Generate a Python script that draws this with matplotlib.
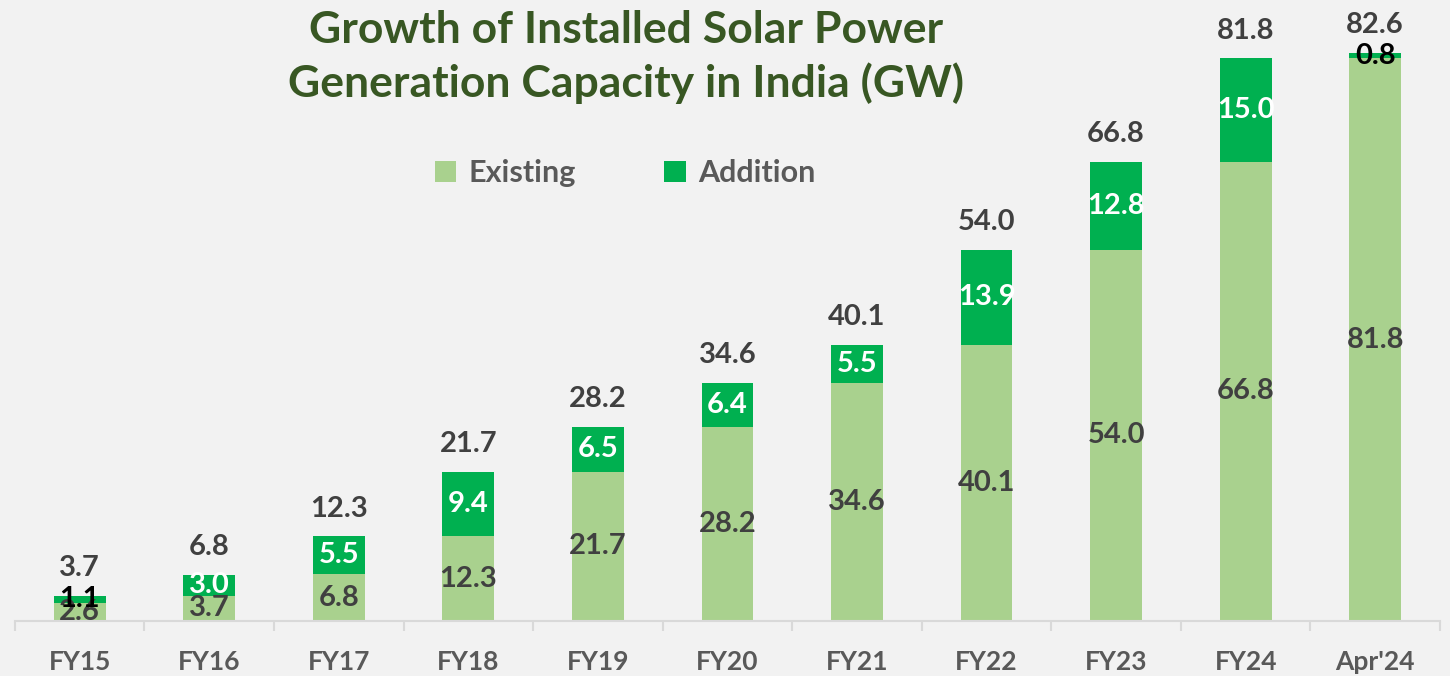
import matplotlib
matplotlib.use('Agg')
import matplotlib.pyplot as plt
import numpy as np

BG = '#F2F2F2'
EXIST_C = '#A9D18E'
ADD_C = '#00B050'
DARK = '#404040'
GREY = '#595959'
TITLE_C = '#385723'

plt.rcParams['font.family'] = ['Lato', 'DejaVu Sans']

years = ['FY15', 'FY16', 'FY17', 'FY18', 'FY19', 'FY20', 'FY21', 'FY22', 'FY23', 'FY24', "Apr'24"]
existing = [2.6, 3.7, 6.8, 12.3, 21.7, 28.2, 34.6, 40.1, 54.0, 66.8, 81.8]
addition = [1.1, 3.0, 5.5, 9.4, 6.5, 6.4, 5.5, 13.9, 12.8, 15.0, 0.8]
totals = [3.7, 6.8, 12.3, 21.7, 28.2, 34.6, 40.1, 54.0, 66.8, 81.8, 82.6]
# small additions get black labels
add_label_col = ['black', 'white', 'white', 'white', 'white', 'white',
                 'white', 'white', 'white', 'white', 'black']

fig = plt.figure(figsize=(14.5, 6.76), dpi=100, facecolor=BG)
ax = fig.add_axes([0.0103, 0.0814, 0.9828, 0.9186], facecolor=BG)

x = np.arange(len(years))
w = 0.4
b1 = ax.bar(x, existing, w, color=EXIST_C, label='Existing', edgecolor='none')
b2 = ax.bar(x, addition, w, bottom=existing, color=ADD_C, label='Addition', edgecolor='none')

ax.set_xlim(-0.5, len(years) - 0.5)
ax.set_ylim(0, 90.3)

FS = 21
for i in range(len(years)):
    ax.text(x[i], existing[i] / 2, f'{existing[i]:.1f}', ha='center', va='center',
            fontsize=FS, fontweight='bold', color=DARK)
    ax.text(x[i], existing[i] + addition[i] / 2, f'{addition[i]:.1f}', ha='center',
            va='center', fontsize=FS, fontweight='bold', color=add_label_col[i])
    ax.annotate(f'{totals[i]:.1f}', (x[i], existing[i] + addition[i]),
                xytext=(0, 20), textcoords='offset points', ha='center', va='center',
                fontsize=FS, fontweight='bold', color=DARK)

for s in ['top', 'right', 'left']:
    ax.spines[s].set_visible(False)
ax.spines['bottom'].set_color('#D9D9D9')
ax.spines['bottom'].set_linewidth(1.5)
ax.set_yticks([])
ax.set_xticks(np.arange(-0.5, len(years), 1.0), minor=False)
ax.set_xticklabels([])
ax.tick_params(axis='x', which='major', length=7, width=1.5, color='#D9D9D9', direction='out')
ax.set_xticks(x, minor=True)
ax.set_xticklabels(years, minor=True, fontsize=19, fontweight='bold', color=GREY)
ax.tick_params(axis='x', which='minor', length=0, pad=21)

fig.text(0.432, 1 - 57 / 676, 'Growth of Installed Solar Power\nGeneration Capacity in India (GW)',
         ha='center', va='center', fontsize=32, fontweight='bold', color=TITLE_C,
         linespacing=1.35)

leg = fig.legend(handles=[b1, b2], labels=['Existing', 'Addition'], ncol=2,
                 loc='center', bbox_to_anchor=(0.431, 0.744), frameon=False,
                 prop={'size': 22, 'weight': 'bold'}, handlelength=0.7, handleheight=0.7,
                 columnspacing=2.9, handletextpad=0.4)
for t in leg.get_texts():
    t.set_color(GREY)

fig.savefig('out.png', dpi=100, facecolor=BG)
